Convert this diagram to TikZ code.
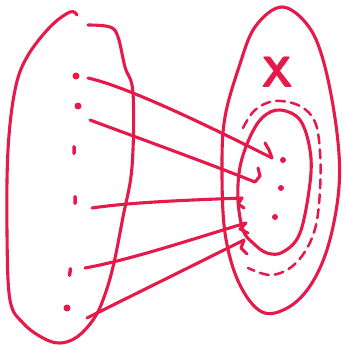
\documentclass[tikz,border=0pt]{standalone}
\usepackage{tikz}
\usetikzlibrary{positioning,calc}
\definecolor{InkRed}{HTML}{E5194A}
\tikzset{
    ink/.style={
        draw=InkRed,
        line width=3.1pt,
        line cap=round,
        line join=round,
    },
    elem/.style={
        circle,
        fill=InkRed,
        inner sep=0pt,
        minimum size=7pt,
    },
    tick/.style={
        rectangle,
        fill=InkRed,
        rounded corners=1.6pt,
        inner sep=0pt,
        minimum width=3.5pt,
        minimum height=10pt,
    },
}
\begin{document}
\begin{tikzpicture}[x=1pt,y=-1pt]
    \useasboundingbox (0,0) rectangle (343,350);

    \tikzset{
        mapsto/.style={ink},
        ring/.style={ink,line width=2.5pt,dash pattern=on 9pt off 6pt},
        setname/.style={text=InkRed,font=\sffamily\bfseries\fontsize{44}{44}\selectfont,inner sep=0pt},
    }

    \draw[ink] plot[smooth,tension=0.6] coordinates {(88,25) (110,27) (118,37) (125,67) (133,93) (132,167) (123,217) (113,267) (103,300) (93,320) (77,337) (60,343) (43,338) (23,323) (10,300) (7,233) (8,150) (15,90) (27,57) (50,27) (70,12) (77,15)};
    \draw[ink] plot[smooth cycle,tension=0.6] coordinates {(282,7) (255,27) (239,67) (225,117) (222,167) (225,233) (239,283) (262,312) (289,307) (312,283) (329,243) (339,187) (337,133) (325,67) (309,27)};
    \draw[ink] plot[smooth cycle,tension=0.6] coordinates {(280,110) (300,120) (310,150) (310,183) (300,233) (283,252) (267,253) (253,243) (243,230) (238,200) (240,167) (250,137) (263,117)};
    \draw[ring] plot[smooth,tension=0.6] coordinates {(243,128) (255,110) (275,101) (300,106) (315,122) (320,152) (320,190) (316,225) (306,250) (290,268) (270,275) (248,268)};

    \node[setname] (setX) at (278,72) {X};

    \node[elem] (a1) at (76,76) {};
    \node[elem] (a2) at (78,106) {};
    \node[tick] (a3) at (74,150) {};
    \node[tick] (a4) at (75,200) {};
    \node[tick,rotate=-8] (a5) at (70,272) {};
    \node[elem] (a6) at (67,308) {};

    \node[elem,minimum size=6pt] (b1) at (283,160) {};
    \node[elem,minimum size=6pt] (b2) at (281,188) {};
    \node[elem,minimum size=6pt] (b3) at (275,217) {};

    \coordinate (e1) at (272,158);
    \coordinate (e2) at (255,182);
    \coordinate (e3) at (242,198);
    \coordinate (e4) at (246,223);
    \coordinate (e5) at (244,240);

    \draw[mapsto] ($(a1)+(12,2)$) .. controls +(45,10) and +(-40,-20) .. (e1) -- ++(-3,-8) -- ++(-4,-7);
    \draw[mapsto] ($(a2)+(12,14)$) .. controls +(40,15) and +(-50,-20) .. (e2) -- ++(5,-6) -- ++(-2,-8);
    \draw[mapsto] ($(a4)+(17,8)$) .. controls +(40,-6) and +(-50,2) .. (e3) -- ++(-4,6) -- ++(6,4);
    \draw[mapsto] ($(a5)+(15,-4)$) .. controls +(45,-8) and +(-50,15) .. (e4) -- ++(-6,6) -- ++(8,4);
    \draw[mapsto] ($(a6)+(20,10)$) .. controls +(40,-20) and +(-50,25) .. (e5) -- ++(-3,8) -- ++(6,6);
\end{tikzpicture}
\end{document}
